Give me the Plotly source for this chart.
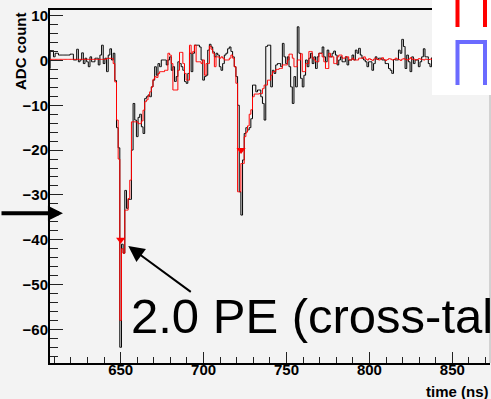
import plotly.graph_objects as go

# ---------------- data ----------------
first_bin_ns = 607  # centre of first 1-ns bin

adc_counts = [
    -1.8, 2.2, 2.2, 0.8, 1.6, 1.6, 1.2, 1.2, 1.2, 1.2,
    1.2, 1.2, 1.2, 1.4, 1.4, 0.1, 0.1, 2.5, -0.3, 0.1,
    1.7, -0.7, 0.5, -0.3, -1.4, 0.8, -0.3, -0.3, 0.5, 0.5,
    -1.0, 1.2, 3.4, -0.7, 0.5, -2.5, 1.2, 2.6, 0.1, 1.6,
    -4.5, -15.0, -19.5, -64.0, -41.0, -43.0, -29.0, -33.0, -31.0, -31.0,
    -20.0, -9.6, -13.3, -17.0, -12.7, -12.0, -14.8, -16.3, -8.5, -8.1,
    -7.7, -8.1, -5.9, -4.4, -1.4, -3.3, -0.7, -1.4, 0.1, 0.1,
    0.1, -1.0, 0.1, 0.8, -2.2, -1.4, -4.7, -3.6, -0.3, -0.7,
    -1.4, -2.2, -4.7, -5.1, -2.9, 1.6, -2.5, 1.6, 3.4, 3.4,
    3.4, 3.0, 0.1, -4.4, -3.6, -3.3, 2.3, 3.6, 3.0, 1.9,
    0.8, 1.6, 1.2, -1.4, -2.2, -0.7, 1.2, 1.6, 2.6, 3.0,
    2.0, 0.8, -1.4, -3.6, -10.0, -29.3, -34.5, -22.2, -16.3, -15.0,
    -15.5, -15.0, -13.0, -5.5, -5.5, -7.0, -6.6, -6.6, -8.1, -9.6,
    -13.3, 3.1, 3.4, 3.4, -5.9, -2.2, -2.9, -1.0, -0.7, -0.7,
    -1.4, 3.8, 0.8, -0.7, 0.8, -1.4, -5.9, -9.6, -3.6, -5.9,
    7.5, 1.6, -4.0, -5.9, -3.3, 0.1, -1.4, 0.5, 1.6, -0.7,
    0.8, -1.8, 0.8, 1.6, 1.6, 3.0, 0.8, -0.3, 2.3, 0.8,
    0.8, 1.6, 2.1, 1.2, -1.0, 0.1, 0.8, -0.3, -0.3, 0.8,
    -1.0, 0.1, 0.1, 1.2, 0.1, 2.3, 1.6, 2.7, 1.2, 0.5,
    0.1, -0.3, -1.4, -0.3, -0.3, -2.2, -0.7, 0.8, 0.2, 0.5,
    0.5, 0.1, 0.1, -0.7, -0.7, -1.8, -2.2, -2.9, 0.2, 0.1,
    0.1, 2.3, 1.6, 4.7, 3.1, -1.8, 1.2, -0.3, -2.5, 0.8,
    -0.7, 0.1, 0.1, -1.4, -0.3, 0.8, 2.6, 0.8, 0.8, -0.7,
    -1.4, 0.6, -0.9, 1.1, 0.3, -1.2, 0.7, 1.5, -0.4, 0.2,
    -1.1, 0.9, 0.4, -0.6, 1.3, -0.2, 0.5, -1.5, 0.8, 0.1,
    -0.8, 1.0, 0.3, -0.5, 1.2, -1.0, 0.4, 0.6, -0.3, 0.9,
    -0.7, 0.2, 1.1, -0.4, 0.5, 0.0,
]

fit_counts = [
    0.24, 0.24, 0.24, 0.24, 0.24, 0.24, 0.24, 0.24, 0.24, 0.24,
    0.24, 0.24, 0.24, 0.24, 0.24, 0.24, 0.24, 0.24, 0.24, 0.24,
    0.24, 0.24, 0.24, 0.24, 0.24, 0.24, 0.24, 0.24, 0.24, 0.24,
    0.24, 0.24, 0.24, 0.24, 0.24, 0.46, 0.46, 0.46, 0.46, -0.7,
    -4.8, -13.3, -22.0, -58.0, -42.0, -43.0, -33.4, -33.4, -30.8, -26.7,
    -13.7, -13.7, -13.7, -13.7, -14.1, -14.1, -13.5, -11.1, -9.2, -8.8,
    -7.9, -7.0, -5.9, -4.2, -3.6, -3.8, -2.9, -2.5, -2.5, -2.5,
    -2.2, -2.2, 1.6, 1.2, -0.7, -6.6, -6.6, -6.6, -2.2, 1.8,
    1.8, -0.7, -2.9, -4.4, -4.4, 3.4, 1.6, 2.0, 3.4, -0.3,
    -0.3, -0.3, -0.7, 0.1, -3.3, -0.7, -0.7, 3.2, 2.5, 1.6,
    -1.4, 0.8, 0.8, 0.5, 0.8, 0.5, 0.1, 0.1, 0.1, 0.5,
    1.2, 0.5, -1.4, -5.1, -29.3, -29.3, -23.0, -23.0, -17.0, -16.0,
    -14.6, -12.0, -11.0, -8.1, -7.5, -7.5, -7.5, -7.4, -7.4, -6.3,
    -5.5, -5.5, -4.4, -4.4, -3.3, -2.5, -2.5, -2.0, -2.0, -1.8,
    -1.8, -1.0, -1.0, -1.0, 0.1, 1.4, 1.4, 0.5, -1.4, -1.4,
    0.1, 0.1, 1.5, -2.5, -2.5, -0.7, -0.7, 2.0, 2.0, 0.5,
    0.1, -0.3, -0.3, 1.6, 1.6, 0.8, -0.3, -1.8, -1.8, 1.6,
    0.8, 0.8, -0.7, -0.7, 0.8, 1.2, 1.2, 0.5, 0.5, 0.8,
    0.8, 0.1, 0.1, 0.5, 0.1, 0.1, 0.1, 0.5, 0.5, 0.5,
    0.8, 0.3, 0.1, 0.4, 0.2, 0.0, 0.3, 0.5, 0.2, 0.1,
    0.3, 0.6, 0.2, 0.0, 0.2, 0.4, 0.3, 0.1, 0.2, 0.5,
    0.3, 0.2, 0.0, 0.3, 0.4, 0.2, 0.1, 0.3, 0.6, 0.2,
    0.3, 0.1, 0.2, 0.4, 0.3, 0.2, 0.1, 0.3, 0.2, 0.2,
    0.3, 0.2, 0.3, 0.2, 0.1, 0.2, 0.3, 0.2, 0.2, 0.3,
    0.2, 0.2, 0.3, 0.2, 0.2, 0.3, 0.2, 0.2, 0.2, 0.3,
    0.2, 0.2, 0.2, 0.3, 0.2, 0.2, 0.2, 0.2, 0.3, 0.2,
    0.2, 0.2, 0.2, 0.2, 0.2, 0.2,
]

pulse_times = [650.0, 722.6]
pulse_amps = [-40.0, -20.0]

x_ticks = [650, 700, 750, 800, 850]
y_ticks = [-60, -50, -40, -30, -20, -10, 0, 10]

annot_text = "2.0 PE (cross-talk)"
pointer_target = (654.6, -41.4)
side_arrow_target = (615.2, -34.1)

adc_time = [first_bin_ns + i for i in range(len(adc_counts))]
fit_time = [first_bin_ns + i for i in range(len(fit_counts))]

# ---------------- figure ----------------
FONT = "Liberation Sans"
BG = "#f3f3f3"
fig = go.Figure()
fig.add_trace(go.Scatter(x=adc_time, y=adc_counts, mode="lines",
                         line=dict(color="black", width=1, shape="hvh"),
                         hoverinfo="skip"))
fig.add_trace(go.Scatter(x=fit_time, y=fit_counts, mode="lines",
                         line=dict(color="#ff0000", width=1, shape="hvh"),
                         hoverinfo="skip"))
fig.add_trace(go.Scatter(x=pulse_times, y=pulse_amps, mode="markers",
                         marker=dict(symbol="triangle-down", size=8, color="#ff0000",
                                     line=dict(width=0)),
                         hoverinfo="skip"))

tickfont = dict(family=FONT, size=15, color="black", weight="bold")
fig.update_layout(
    width=491, height=399,
    margin=dict(l=50, r=1, t=10, b=36),
    paper_bgcolor=BG, plot_bgcolor=BG,
    showlegend=False,
    xaxis=dict(range=[607.4, 872.7], tickvals=x_ticks, ticks="inside", ticklen=11,
               tickwidth=1, tickcolor="#222", showline=True, linecolor="black",
               linewidth=2, mirror=True, showgrid=False, zeroline=False,
               tickfont=tickfont, ticklabelstandoff=-8,
               minor=dict(dtick=10, tick0=650, ticks="inside", ticklen=6,
                          tickcolor="#222", tickwidth=1, showgrid=False)),
    yaxis=dict(range=[-67.5, 11.25], tickvals=y_ticks, ticks="inside", ticklen=13,
               tickwidth=1, tickcolor="#222", showline=True, linecolor="black",
               linewidth=2, showgrid=False, zeroline=False,
               tickfont=tickfont, ticklabelstandoff=-3,
               minor=dict(dtick=2, tick0=0, ticks="inside", ticklen=8,
                          tickcolor="#222", tickwidth=1, showgrid=False)),
)

def px_x(px):
    return (px - 50) / 440.0

def px_y(py):
    return (363 - py) / 353.0

shapes = [
    dict(type="line", xref="paper", yref="paper", x0=1, x1=1, y0=0, y1=1,
         line=dict(color="#b0b0b0", width=1), layer="above"),
    dict(type="rect", xref="paper", yref="paper", x0=px_x(432), x1=px_x(500),
         y0=px_y(95), y1=px_y(-5), fillcolor="white", line=dict(width=0), layer="above"),
    dict(type="path", xref="paper", yref="paper",
         path=f"M{px_x(457.5)},{px_y(27)} L{px_x(457.5)},{px_y(-5)} L{px_x(485)},{px_y(-5)} L{px_x(485)},{px_y(27)}",
         line=dict(color="#ff0000", width=4), layer="above"),
    dict(type="path", xref="paper", yref="paper",
         path=f"M{px_x(457.5)},{px_y(85)} L{px_x(457.5)},{px_y(42)} L{px_x(485)},{px_y(42)} L{px_x(485)},{px_y(85)}",
         line=dict(color="#6b6bff", width=4), layer="above"),
]
fig.update_layout(shapes=shapes)

annotations = [
    dict(text="ADC count", xref="paper", yref="paper", x=px_x(20), y=1.0,
         xanchor="center", yanchor="top", textangle=-90, showarrow=False,
         font=dict(family=FONT, size=15, color="black", weight="bold")),
    dict(text="time (ns)", xref="paper", yref="paper", x=px_x(491), y=px_y(391),
         xanchor="right", yanchor="middle", showarrow=False,
         font=dict(family=FONT, size=15, color="black", weight="bold")),
    dict(text=annot_text, xref="paper", yref="paper", x=px_x(129), y=px_y(316),
         xanchor="left", yanchor="middle", showarrow=False,
         font=dict(family=FONT, size=49, color="black")),
    dict(text="", x=pointer_target[0], y=pointer_target[1], xref="x", yref="y",
         showarrow=True, ax=64, ay=47, arrowhead=2, arrowsize=1.6, arrowwidth=2,
         arrowcolor="black"),
    dict(text="", x=side_arrow_target[0], y=side_arrow_target[1], xref="x", yref="y",
         showarrow=True, ax=-64, ay=0, arrowhead=2, arrowsize=0.75, arrowwidth=4,
         arrowcolor="black"),
]
fig.update_layout(annotations=annotations)

fig.write_html("out.html")
